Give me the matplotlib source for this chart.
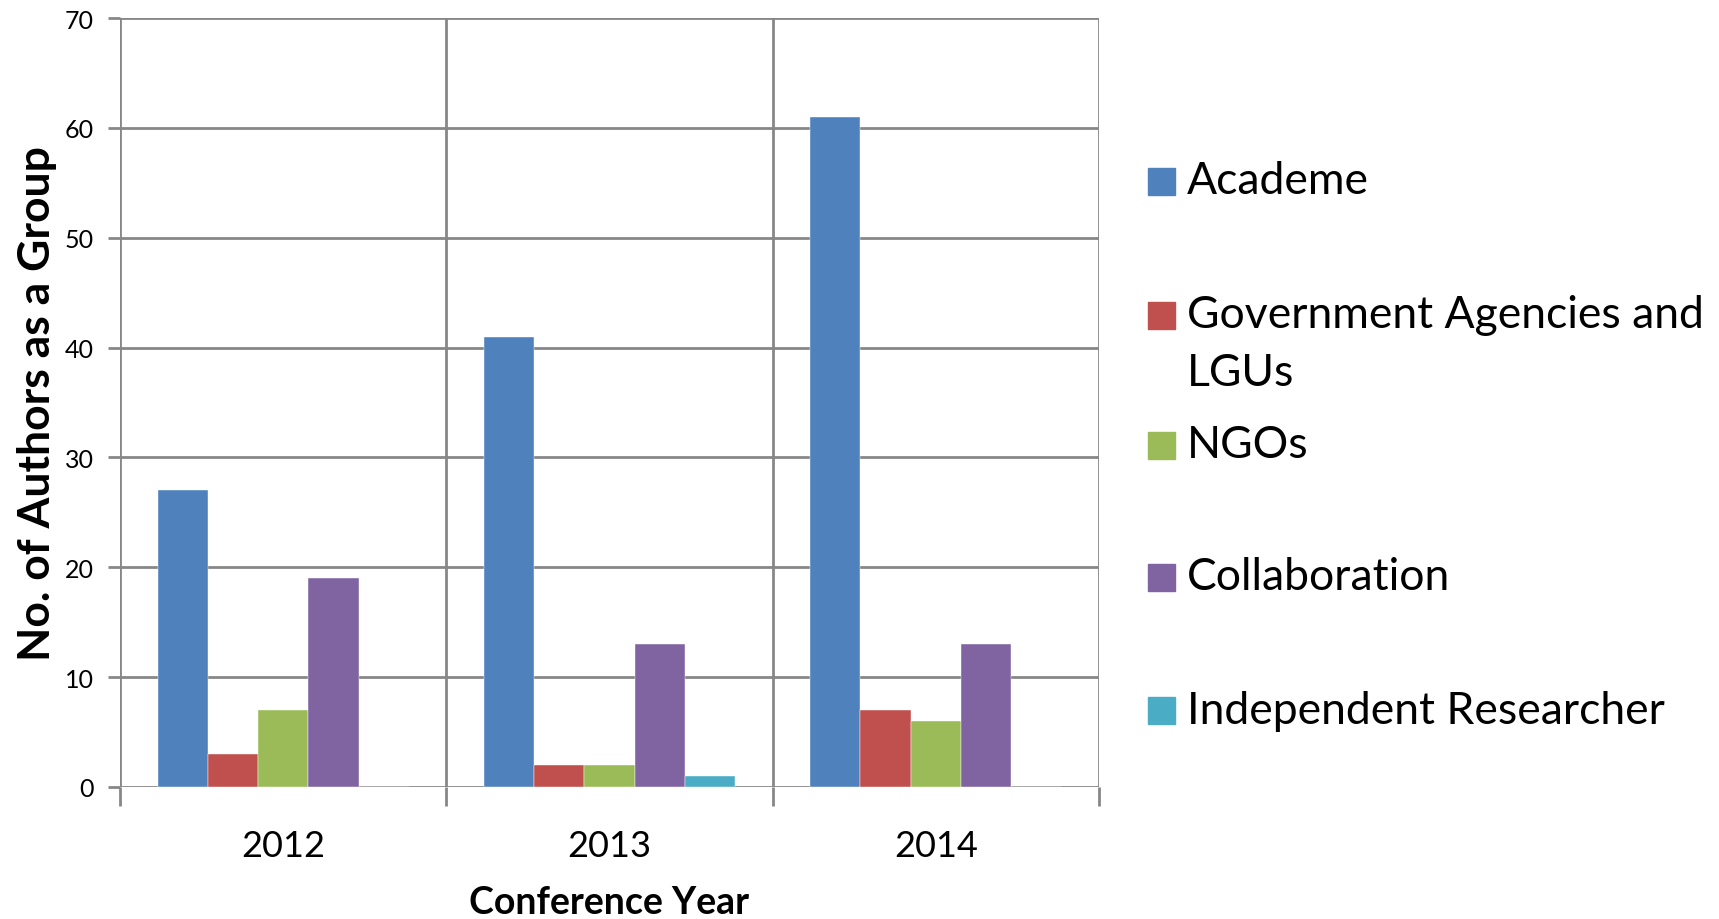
import numpy as np
import matplotlib
matplotlib.use("Agg")
import matplotlib.pyplot as plt
from matplotlib.patches import Rectangle

plt.rcParams['font.family'] = ['Lato', 'DejaVu Sans']

years = ['2012', '2013', '2014']
groups = ['Academe', 'Government Agencies and\nLGUs', 'NGOs', 'Collaboration',
          'Independent Researcher']
academe = [27, 41, 61]
government = [3, 2, 7]
ngos = [7, 2, 6]
collaboration = [19, 13, 13]
independent = [0, 1, 0]
colors = ['#4F81BD', '#C0504D', '#9BBB59', '#8064A2', '#4BACC6']

series = [academe, government, ngos, collaboration, independent]

grid_col = '#878787'

fig = plt.figure(figsize=(17.19, 9.2), dpi=100)
ax = fig.add_axes([0.0698, 0.1435, 0.5695, 0.8358])

x = np.arange(len(years))
w = 0.154
for i, vals in enumerate(series):
    ax.bar(x + (i - 2) * w, vals, width=w, color=colors[i], zorder=3,
           edgecolor='white', linewidth=0.3)

ax.set_xlim(-0.5, 2.5)
ax.set_ylim(0, 70)
ax.set_yticks(range(0, 71, 10))
ax.set_xticks(x)
ax.set_xticklabels(years)
ax.set_xticks([-0.5, 0.5, 1.5, 2.5], minor=True)

for s in ax.spines.values():
    s.set_visible(False)

ax.grid(axis='y', which='major', color=grid_col, linewidth=2, zorder=1)
ax.grid(axis='x', which='minor', color=grid_col, linewidth=2, zorder=1)
ax.grid(axis='x', which='major', visible=False)

ax.tick_params(axis='y', length=9, width=2, color=grid_col, pad=10,
               labelsize=18)
ax.tick_params(axis='x', which='major', length=0, pad=30, labelsize=26)
ax.tick_params(axis='x', which='minor', length=14, width=2, color=grid_col)

ax.set_ylabel('No. of Authors as a Group', fontsize=32, fontweight='bold')
ax.yaxis.set_label_coords((57 - 120) / 979, 0.5)
ax.set_xlabel('Conference Year', fontsize=27, fontweight='bold', va='baseline')
ax.xaxis.set_label_coords(0.5, (788 - 914) / 769)

# legend drawn by hand to keep the wide spacing
leg_y = [182, 316, 446, 578, 711]
H, W = 920, 1719
for name, col, yc in zip(groups, colors, leg_y):
    fig.patches.append(Rectangle((1148 / W, 1 - (yc + 13.5) / H), 27 / W, 27 / H,
                                 transform=fig.transFigure, color=col))
    lines = name.split('\n')
    for k, line in enumerate(lines):
        fig.text(1187 / W, 1 - (yc + 58 * k) / H, line, fontsize=32, va='center')

fig.savefig('out.png', dpi=100)
